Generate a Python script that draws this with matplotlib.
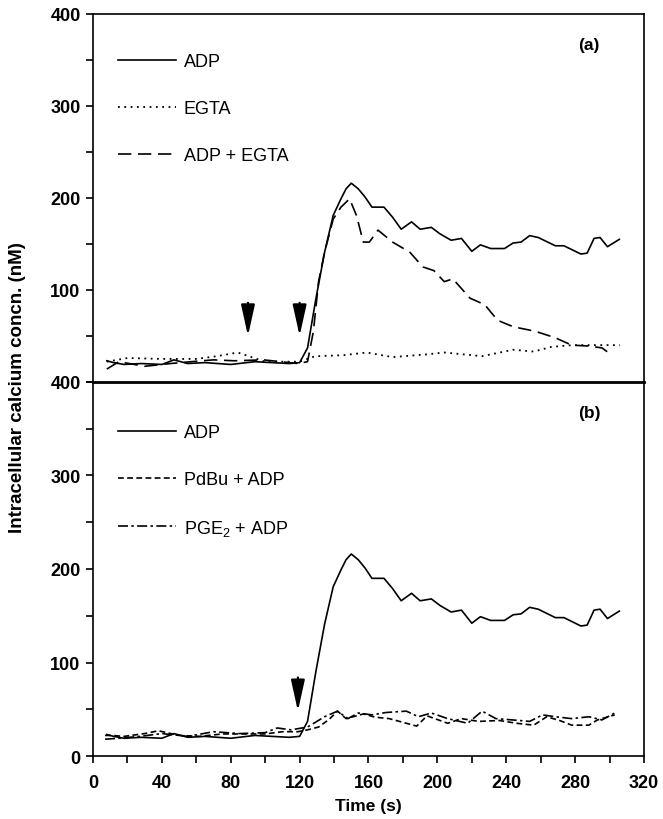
import matplotlib
matplotlib.use("Agg")
import matplotlib.pyplot as plt
import numpy as np

plt.rcParams['font.family'] = ['Liberation Sans', 'DejaVu Sans']
plt.rcParams['mathtext.fontset'] = 'custom'
plt.rcParams['mathtext.rm'] = 'Liberation Sans'
plt.rcParams['mathtext.it'] = 'Liberation Sans'

# ---------------- data ----------------
adp_t = [8, 12, 18, 28, 40, 47, 55, 65, 80, 94, 104, 114, 120, 124.6, 129.5, 134.5, 139.5, 144, 147, 150,
         154, 158, 162, 169, 174, 179, 185, 190, 196.5, 201.5, 208, 214, 220, 225, 231, 239, 244, 248.6,
         253.6, 258.6, 268.5, 273.5, 283.4, 287, 291, 294.5, 298.8, 305.7]
adp_v = [23, 21, 19, 20, 19, 24, 20, 21, 19, 22, 21, 20, 21, 37, 91, 141, 181, 199, 210, 216,
         210, 201, 190, 190, 179, 166, 174, 166, 168, 161, 154, 156, 142, 149, 145, 145, 151, 152,
         159, 157, 148, 148, 139, 140, 156, 157, 147, 155]

egta_t = [8, 20, 40, 60, 72, 84, 100, 110, 120, 129, 145, 159, 174, 194, 204, 215, 226, 244, 256,
          266, 278, 293, 306]
egta_v = [22, 26, 25, 25, 28, 32, 22, 22, 22, 28, 29, 32, 27, 30, 32, 30, 28, 35, 33, 38, 40, 40, 40]

adpegta_t = [8, 15, 30, 45, 57, 70, 82, 99, 119, 124.6, 128, 131, 134.5, 139.5, 144, 149, 153, 157,
             160.5, 165.5, 174, 184, 191.6, 198, 204, 209, 219, 227.5, 235, 244, 257, 268.5, 278,
             288, 295.6, 300.7]
adpegta_v = [14, 22, 17, 20, 22, 24, 23, 24, 20, 22, 55, 109, 141, 177, 190, 199, 181, 152,
             152, 165, 152, 141, 125, 121, 109, 112, 91, 84, 67, 60, 55, 48, 40,
             39, 37, 30]

pdbu_t = [7, 11, 18, 30, 38, 50, 62, 75, 90, 100, 110, 119, 124.6, 131, 137, 142, 147, 157, 164,
          172, 182, 188, 194, 206, 214, 224, 236, 246, 256, 263.5, 271, 278, 288, 293, 303]
pdbu_v = [22, 22, 21, 24, 27, 22, 21, 23.6, 23.6, 23.6, 26, 26, 28, 31, 39, 48, 40, 45, 41.5,
          40, 35, 32, 43, 35, 40, 37, 38, 35, 33, 42, 38, 33, 33, 38.6, 44]

pge_t = [7, 15, 27, 40, 55, 70, 85, 100, 107, 115, 124.6, 134.5, 142, 148, 154, 162, 170, 182,
         189, 196.5, 206, 217.6, 226, 234, 243.7, 253.6, 261, 268.5, 278, 288, 295.6, 303]
pge_v = [18, 19, 21, 24, 21, 26, 24, 25, 30, 28, 31, 42, 48, 40, 46, 44, 46.5, 48,
         42, 46, 40, 35, 48, 40, 38.6, 37, 44, 42, 40, 42, 38.6, 46]

arrows_a = [90, 120]
arrows_b = [119]
arrow_top, arrow_tip = 86, 50

# ---------------- figure ----------------
fig = plt.figure(figsize=(6.63, 8.2), dpi=100)
L, W = 0.1403, 0.831
axa = fig.add_axes([L, 0.533, W, 0.4488])
axb = fig.add_axes([L, 0.0768, W, 0.4562])

lw = 1.2
tickfont = dict(fontsize=13, fontweight='bold')

for ax in (axa, axb):
    ax.set_xlim(0, 320)
    ax.set_ylim(0, 400)
    ax.set_yticks(np.arange(0, 401, 50), minor=True)
    ax.tick_params(axis='y', which='both', direction='out', length=5, width=1.2, pad=4)
    for s in ax.spines.values():
        s.set_linewidth(1.2)

# panel a
axa.plot(adp_t, adp_v, color='k', lw=lw, ls='-', label='ADP')
axa.plot(egta_t, egta_v, color='k', lw=1.3, ls=(0, (1, 2.5)), label='EGTA')
axa.plot(adpegta_t, adpegta_v, color='k', lw=lw, ls=(0, (8, 4)), label='ADP + EGTA')
axa.set_yticks([100, 200, 300, 400])
axa.set_yticklabels(['100', '200', '300', '400'], **tickfont)
axa.set_xticks([])
axa.spines['bottom'].set_visible(False)
axa.text(0.88, 0.905, '(a)', transform=axa.transAxes, fontsize=12.5, fontweight='bold')

# panel b
axb.plot(adp_t, adp_v, color='k', lw=lw, ls='-', label='ADP')
axb.plot(pdbu_t, pdbu_v, color='k', lw=lw, ls=(0, (3.5, 2)), label='PdBu + ADP')
axb.plot(pge_t, pge_v, color='k', lw=lw, ls=(0, (6, 2, 1.5, 2)), label='PGE$_2$ + ADP')
axb.set_yticks([0, 100, 200, 300, 400])
axb.set_yticklabels(['0', '100', '200', '300', '400'], **tickfont)
axb.set_xticks(np.arange(0, 321, 40))
axb.set_xticks(np.arange(0, 321, 20), minor=True)
axb.set_xticklabels([str(v) for v in range(0, 321, 40)], **tickfont)
axb.tick_params(axis='x', which='both', direction='out', length=5, width=1.2, pad=8)
axb.spines['top'].set_linewidth(2.0)
axb.text(0.88, 0.905, '(b)', transform=axb.transAxes, fontsize=12.5, fontweight='bold')
axb.set_xlabel('Time (s)', fontsize=12.5, fontweight='bold', labelpad=5)

for ax, yb in ((axa, 0.893), (axb, 0.887)):
    ax.legend(loc='upper left', bbox_to_anchor=(0.045, yb), frameon=False,
              fontsize=13, labelspacing=1.65, handlelength=3.2, handletextpad=0.45,
              borderaxespad=0, borderpad=0)

arrowprops = dict(arrowstyle='-|>,head_width=0.42,head_length=1.9', color='k', lw=1.6,
                  shrinkA=0, shrinkB=0)
for t in arrows_a:
    axa.annotate('', xy=(t, arrow_tip), xytext=(t, arrow_top), arrowprops=arrowprops)
for t in arrows_b:
    axb.annotate('', xy=(t, arrow_tip - 2), xytext=(t, arrow_top - 2), arrowprops=arrowprops)

fig.text(0.027, 0.527, 'Intracellular calcium concn. (nM)', rotation=90, ha='center', va='center',
         fontsize=13.5, fontweight='bold')

fig.savefig('out.png', dpi=100)
